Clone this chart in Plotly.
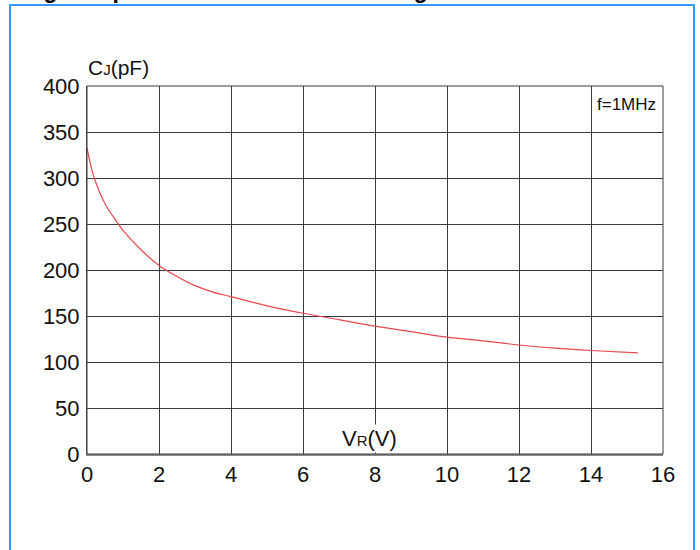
import plotly.graph_objects as go

# Data
v_r = [0, 0.2, 0.5, 0.87, 1.0, 1.5, 2.0, 2.5, 3.0, 3.5, 4.0, 5.0, 6.0, 7.0, 8.0, 9.0, 10.0, 11.0, 12.0, 13.0, 14.0, 15.3]
c_j = [333, 300, 272, 250, 243, 222, 205, 193, 183, 176, 171, 161, 153, 146, 139, 133, 127, 123, 118.5, 115, 112.5, 110]
x_ticks = [0, 2, 4, 6, 8, 10, 12, 14, 16]
y_ticks = [0, 50, 100, 150, 200, 250, 300, 350, 400]

FONT = "Liberation Sans, Arial, sans-serif"

fig = go.Figure()
fig.add_trace(go.Scatter(x=v_r, y=c_j, mode="lines",
                         line=dict(color="#e8474d", width=1.2, shape="spline"),
                         showlegend=False, hoverinfo="skip"))

L, R, T, B = 87, 37, 86, 96
pw = 700 - L - R
ph = 550 - T - B

def px(xp):
    return (xp - L) / pw

def py(yp):
    return (550 - B - yp) / ph

fig.update_layout(
    width=700, height=550,
    margin=dict(l=L, r=R, t=T, b=B),
    paper_bgcolor="white", plot_bgcolor="white",
    font=dict(family=FONT, color="#111111"),
    xaxis=dict(range=[0, 16], tickvals=x_ticks, ticktext=[str(t) for t in x_ticks],
               showgrid=True, gridcolor="#3a3a3a", gridwidth=1,
               showline=True, linecolor="#8a8a8a", linewidth=2, mirror=False,
               zeroline=False, ticks="", ticklabelstandoff=0,
               tickfont=dict(size=22, family=FONT, color="#111"),
               fixedrange=True),
    yaxis=dict(range=[0, 400], tickvals=y_ticks, ticktext=[str(t) for t in y_ticks],
               showgrid=True, gridcolor="#3a3a3a", gridwidth=1,
               showline=True, linecolor="#555555", linewidth=1, mirror=False,
               zeroline=False, ticks="", ticklabelstandoff=2,
               tickfont=dict(size=22, family=FONT, color="#111"),
               fixedrange=True),
    shapes=[
        dict(type="rect", xref="paper", yref="paper", x0=0, x1=1, y0=0, y1=1,
             line=dict(color="#3a3a3a", width=1), layer="above"),
        dict(type="rect", xref="paper", yref="paper",
             x0=px(10), x1=px(694), y0=py(570), y1=py(5),
             line=dict(color="#3399ff", width=2)),
    ],
    annotations=[
        dict(text="C<span style='font-size:15px'>J</span>(pF)", xref="paper", yref="paper",
             x=px(86), y=py(81), xanchor="left", yanchor="bottom", showarrow=False,
             font=dict(size=21, family=FONT, color="#111")),
        dict(text="V<span style='font-size:15px'>R</span>(V)", xref="x", yref="paper",
             x=7.85, y=py(453), xanchor="center", yanchor="bottom", showarrow=False,
             bgcolor="white", borderpad=1,
             font=dict(size=22, family=FONT, color="#111")),
        dict(text="f=1MHz", xref="paper", yref="paper",
             x=px(658), y=py(104), xanchor="right", yanchor="middle", showarrow=False,
             font=dict(size=17, family=FONT, color="#111")),
        dict(text="<b>Fig.3 Capacitance vs. Reverse Voltage</b>", xref="paper", yref="paper",
             x=px(21), y=py(5), xanchor="left", yanchor="bottom", showarrow=False,
             font=dict(size=23, family=FONT, color="#000")),
    ],
)

fig.write_html("out.html", config={"displayModeBar": False},
               post_script="document.body.style.margin='0';document.body.style.overflow='hidden';")
